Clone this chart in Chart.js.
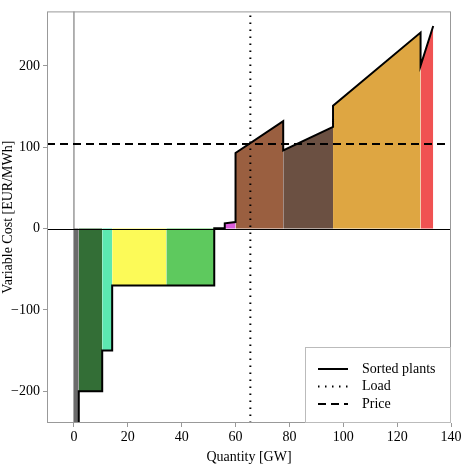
<!DOCTYPE html>
<html>
<head>
<meta charset="utf-8">
<script src="https://cdn.jsdelivr.net/npm/chart.js@4.4.1/dist/chart.umd.min.js"></script>
<style>
  html, body { margin: 0; padding: 0; background: #fff; }
  #wrap { width: 470px; height: 470px; }
</style>
</head>
<body>
<div id="wrap"><canvas id="meritChart" width="470" height="470"></canvas></div>
<script>
// merit order: each plant spans [plantStart, plantEnd] GW, cost rising from costLow to costHigh
const plantStart = [0, 1.8, 10.5, 14.2, 34.3, 52.1, 56.0, 60.0, 77.7, 96.2, 128.7];
const plantEnd   = [1.8, 10.5, 14.2, 34.3, 52.1, 56.0, 60.0, 77.7, 96.2, 128.7, 133.4];
const costLow    = [-300, -200, -150, -70, -70, 0.5, 6.5, 93, 96, 151, 200];
const costHigh   = [-300, -200, -150, -70, -70, 0.5, 8, 132, 125, 241, 249];
const loadGW = 65.5;
const priceEUR = 104;
const xTicks = [0, 20, 40, 60, 80, 100, 120, 140];
const yTicks = [-200, -100, 0, 100, 200];
const xLimits = [-10, 140];
const yLimits = [-239, 267];

const plantColors = ['#6b6b6b', '#336e36', '#5ce8b0', '#fcfa58', '#5ec95e', '#8a8a8a',
  '#dc5edc', '#9a5f40', '#6b5042', '#dea642', '#f05252'];

const serif = '"Liberation Serif", "DejaVu Serif", serif';

const datasets = [];
plantStart.forEach((x0, i) => {
  datasets.push({
    data: [{x: x0, y: costLow[i]}, {x: plantEnd[i], y: costHigh[i]}],
    borderWidth: 0,
    backgroundColor: plantColors[i],
    fill: 'origin',
    pointRadius: 0,
    order: 5
  });
});

// stepped curve of sorted plants
const curve = [];
plantStart.forEach((x0, i) => {
  curve.push({x: x0, y: costLow[i]});
  curve.push({x: plantEnd[i], y: costHigh[i]});
});
datasets.push({
  label: 'Sorted plants',
  data: curve,
  borderColor: '#000',
  borderWidth: 2,
  fill: false,
  pointRadius: 0,
  order: 3
});
datasets.push({
  label: 'Load',
  data: [{x: loadGW, y: yLimits[0]}, {x: loadGW, y: yLimits[1]}],
  borderColor: '#000',
  borderWidth: 2,
  borderDash: [1.5, 5.5],
  fill: false,
  pointRadius: 0,
  order: 2
});
datasets.push({
  label: 'Price',
  data: [{x: xLimits[0], y: priceEUR}, {x: xLimits[1], y: priceEUR}],
  borderColor: '#000',
  borderWidth: 2,
  borderDash: [8, 5],
  fill: false,
  pointRadius: 0,
  order: 1
});

const framePlugin = {
  id: 'frame',
  beforeDatasetsDraw(chart) {
    const {ctx, chartArea: a, scales} = chart;
    const x0 = scales.x.getPixelForValue(0);
    ctx.save();
    ctx.strokeStyle = '#999';
    ctx.lineWidth = 1.5;
    ctx.beginPath();
    ctx.moveTo(x0, a.top);
    ctx.lineTo(x0, a.bottom);
    ctx.stroke();
    ctx.restore();
  },
  afterDatasetsDraw(chart) {
    const {ctx, chartArea: a, scales} = chart;
    const y0 = scales.y.getPixelForValue(0);
    ctx.save();
    ctx.strokeStyle = '#000';
    ctx.lineWidth = 1;
    ctx.beginPath();
    ctx.moveTo(a.left, Math.round(y0) + 0.5);
    ctx.lineTo(a.right, Math.round(y0) + 0.5);
    ctx.stroke();

    ctx.strokeStyle = '#999';
    ctx.strokeRect(a.left + 0.5, a.top + 0.5, a.right - a.left - 1, a.bottom - a.top - 1);

    // legend, lower right inside the axes
    const w = 146, h = 76;
    const lx = a.right - w, ly = a.bottom - h;
    ctx.fillStyle = '#fff';
    ctx.fillRect(lx, ly, w, h);
    ctx.strokeStyle = '#bbb';
    ctx.strokeRect(lx + 0.5, ly + 0.5, w - 1, h - 1);
    const items = datasets.filter(d => d.label);
    ctx.font = '14px ' + serif;
    ctx.textBaseline = 'middle';
    items.forEach((d, i) => {
      const yy = ly + 22 + i * 17.5;
      ctx.strokeStyle = '#000';
      ctx.lineWidth = 2;
      ctx.setLineDash(d.borderDash || []);
      ctx.beginPath();
      ctx.moveTo(lx + 13, yy);
      ctx.lineTo(lx + 43, yy);
      ctx.stroke();
      ctx.setLineDash([]);
      ctx.fillStyle = '#000';
      ctx.fillText(d.label, lx + 57, yy);
    });
    ctx.restore();
  }
};

const fmt = v => (v < 0 ? '\u2212' + Math.abs(v) : String(v));

const meritChart = new Chart(document.getElementById('meritChart').getContext('2d'), {
  type: 'line',
  data: { datasets: datasets },
  options: {
    responsive: false,
    animation: false,
    layout: { padding: { left: 0, right: 19, top: 10, bottom: 0 } },
    plugins: { legend: { display: false }, tooltip: { enabled: false } },
    scales: {
      x: {
        type: 'linear',
        min: xLimits[0],
        max: xLimits[1],
        afterBuildTicks: s => { s.ticks = xTicks.map(v => ({value: v})); },
        afterFit: s => { s.height = 47; },
        grid: { drawOnChartArea: false, tickLength: 4, color: '#999' },
        border: { display: false },
        ticks: { color: '#000', font: { family: serif, size: 14 }, padding: 2, callback: fmt, maxRotation: 0 },
        title: { display: true, text: 'Quantity [GW]', color: '#000', font: { family: serif, size: 14 }, padding: { top: 0 } }
      },
      y: {
        type: 'linear',
        min: yLimits[0],
        max: yLimits[1],
        afterBuildTicks: s => { s.ticks = yTicks.map(v => ({value: v})); },
        afterFit: s => { s.width = 47; },
        grid: { drawOnChartArea: false, tickLength: 4, color: '#999' },
        border: { display: false },
        ticks: { color: '#000', font: { family: serif, size: 14 }, padding: 3, callback: fmt },
        title: { display: true, text: 'Variable Cost [EUR/MWh]', color: '#000', font: { family: serif, size: 14 }, padding: 0 }
      }
    }
  },
  plugins: [framePlugin]
});
</script>
</body>
</html>
